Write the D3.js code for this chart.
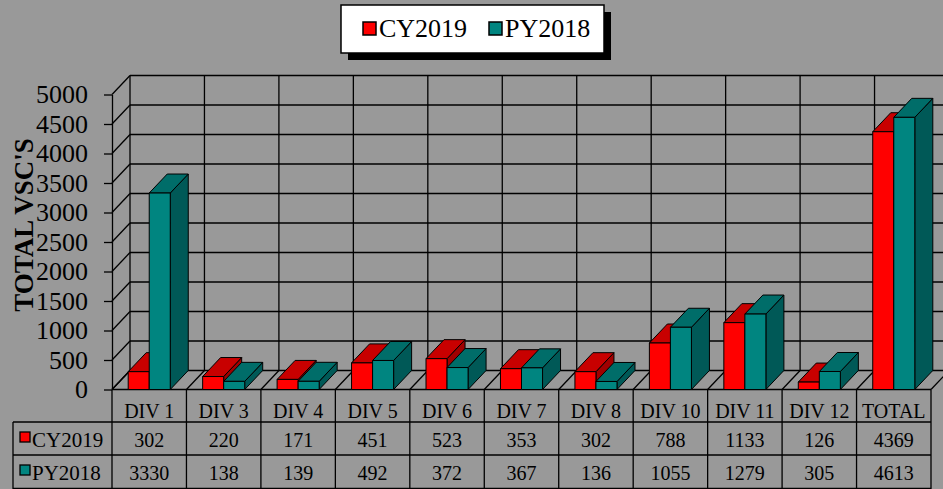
<!DOCTYPE html>
<html>
<head>
<meta charset="utf-8">
<script src="https://cdn.jsdelivr.net/npm/d3@7"></script>
<style>
  body { margin: 0; background: #999999; }
  svg { display: block; font-family: "Liberation Serif", "Times New Roman", serif; }
</style>
</head>
<body>
<svg id="chart" width="943" height="489"></svg>
<script>
// data
const categories = ["DIV 1", "DIV 3", "DIV 4", "DIV 5", "DIV 6", "DIV 7", "DIV 8", "DIV 10", "DIV 11", "DIV 12", "TOTAL"];
const seriesNames = ["CY2019", "PY2018"];
const cy2019 = [302, 220, 171, 451, 523, 353, 302, 788, 1133, 126, 4369];
const py2018 = [3330, 138, 139, 492, 372, 367, 136, 1055, 1279, 305, 4613];
const yTicks = [0, 500, 1000, 1500, 2000, 2500, 3000, 3500, 4000, 4500, 5000];

const colors = {
  CY2019: { front: "#ff0000", top: "#c80000", side: "#a00000" },
  PY2018: { front: "#008580", top: "#006d69", side: "#005957" }
};

const W = 943, H = 489;
const left = 112, right = 931;
const dx = 18, dy = 19; // depth of the 3d box

const svg = d3.select("#chart");
svg.append("rect").attr("width", W).attr("height", H).attr("fill", "#999999");

const x = d3.scaleBand().domain(categories).range([left, right]).padding(0);
const xs = d3.scaleBand().domain(seriesNames).range([0, x.bandwidth()]).paddingInner(0).paddingOuter(0.77);
const y = d3.scaleLinear().domain([0, 5000]).range([389.5, 94.5]);

const grid = svg.append("g").attr("stroke", "#000").attr("stroke-width", 1.3).attr("fill", "none");

// back wall horizontal lines + left wall diagonals
yTicks.forEach(t => {
  grid.append("line").attr("x1", left + dx).attr("x2", left + dx + (right - left) + 2)
    .attr("y1", y(t) - dy).attr("y2", y(t) - dy);
  grid.append("line").attr("x1", left).attr("x2", left + dx)
    .attr("y1", y(t)).attr("y2", y(t) - dy);
});

// back wall verticals and floor diagonals
const edges = categories.map(c => x(c)).concat([right]);
edges.forEach(e => {
  grid.append("line").attr("x1", e + dx).attr("x2", e + dx)
    .attr("y1", y(5000) - dy).attr("y2", y(0) - dy);
  grid.append("line").attr("x1", e).attr("x2", e + dx)
    .attr("y1", y(0)).attr("y2", y(0) - dy);
});
// floor front edge
grid.append("line").attr("x1", left).attr("x2", right).attr("y1", y(0)).attr("y2", y(0));

// y axis
const yAxis = svg.append("g")
  .attr("transform", `translate(${left},0)`)
  .call(d3.axisLeft(y).tickValues(yTicks).tickFormat(d3.format("d")).tickSize(8).tickSizeOuter(0).tickPadding(16));
yAxis.selectAll("path, line").attr("stroke", "#000").attr("stroke-width", 1.3);
yAxis.selectAll("text").attr("font-size", 26).attr("font-family", "Liberation Serif").attr("fill", "#000");

// y title
svg.append("text")
  .attr("transform", "translate(33,225) rotate(-90)")
  .attr("text-anchor", "middle")
  .attr("font-size", 27)
  .attr("font-weight", "bold")
  .text("TOTAL VSC'S");

// bars
const barData = categories.map((c, i) => ({ cat: c, values: [
  { name: "CY2019", v: cy2019[i] },
  { name: "PY2018", v: py2018[i] }
] }));

const bars = svg.append("g").attr("stroke", "#000").attr("stroke-width", 1).attr("stroke-linejoin", "round");
barData.forEach(d => {
  d.values.forEach(s => {
    const bx = x(d.cat) + xs(s.name);
    const bw = xs.bandwidth();
    const yt = y(s.v), yb = y(0);
    const g = bars.append("g");
    g.append("polygon")
      .attr("points", [[bx + bw, yt], [bx + bw + dx, yt - dy], [bx + bw + dx, yb - dy], [bx + bw, yb]].join(" "))
      .attr("fill", colors[s.name].side);
    g.append("polygon")
      .attr("points", [[bx, yt], [bx + bw, yt], [bx + bw + dx, yt - dy], [bx + dx, yt - dy]].join(" "))
      .attr("fill", colors[s.name].top);
    g.append("rect")
      .attr("x", bx).attr("y", yt).attr("width", bw).attr("height", yb - yt)
      .attr("fill", colors[s.name].front);
  });
});

// data table
const tbl = svg.append("g");
const rowTop = [390, 422, 455, 489];
const tLeft = 13;
const tl = tbl.append("g").attr("stroke", "#000").attr("stroke-width", 1.3);
tl.append("line").attr("x1", tLeft).attr("x2", right).attr("y1", rowTop[1]).attr("y2", rowTop[1]);
tl.append("line").attr("x1", tLeft).attr("x2", right).attr("y1", rowTop[2]).attr("y2", rowTop[2]);
tl.append("line").attr("x1", tLeft).attr("x2", right).attr("y1", rowTop[3] - 0.5).attr("y2", rowTop[3] - 0.5);
tl.append("line").attr("x1", tLeft).attr("x2", tLeft).attr("y1", rowTop[1]).attr("y2", rowTop[3]);
edges.forEach(e => {
  tl.append("line").attr("x1", e).attr("x2", e).attr("y1", rowTop[0]).attr("y2", rowTop[3]);
});

// header labels
tbl.selectAll(".hdr").data(categories).join("text")
  .attr("x", c => x(c) + x.bandwidth() / 2)
  .attr("y", 418)
  .attr("text-anchor", "middle")
  .attr("font-size", 20)
  .text(c => c);

const rows = [
  { name: "CY2019", vals: cy2019, base: 447 },
  { name: "PY2018", vals: py2018, base: 480 }
];
rows.forEach(r => {
  tbl.append("rect")
    .attr("x", 20).attr("y", r.base - 15).attr("width", 10).attr("height", 10)
    .attr("fill", colors[r.name].front).attr("stroke", "#000").attr("stroke-width", 1.3);
  tbl.append("text").attr("x", 32).attr("y", r.base).attr("font-size", 21).text(r.name);
  tbl.selectAll(null).data(r.vals).join("text")
    .attr("x", (v, i) => x(categories[i]) + x.bandwidth() / 2)
    .attr("y", r.base)
    .attr("text-anchor", "middle")
    .attr("font-size", 20)
    .text(v => v);
});

// legend
const leg = svg.append("g");
leg.append("rect").attr("x", 348).attr("y", 12).attr("width", 263).attr("height", 48).attr("fill", "#000");
leg.append("rect").attr("x", 341).attr("y", 5).attr("width", 263).attr("height", 48)
  .attr("fill", "#fff").attr("stroke", "#000").attr("stroke-width", 1.5);
const legX = [363, 489];
seriesNames.forEach((s, i) => {
  leg.append("rect").attr("x", legX[i]).attr("y", 22).attr("width", 13).attr("height", 13)
    .attr("fill", colors[s].front).attr("stroke", "#000").attr("stroke-width", 1.5);
  leg.append("text").attr("x", legX[i] + 16).attr("y", 37).attr("font-size", 26).text(s);
});
</script>
</body>
</html>
